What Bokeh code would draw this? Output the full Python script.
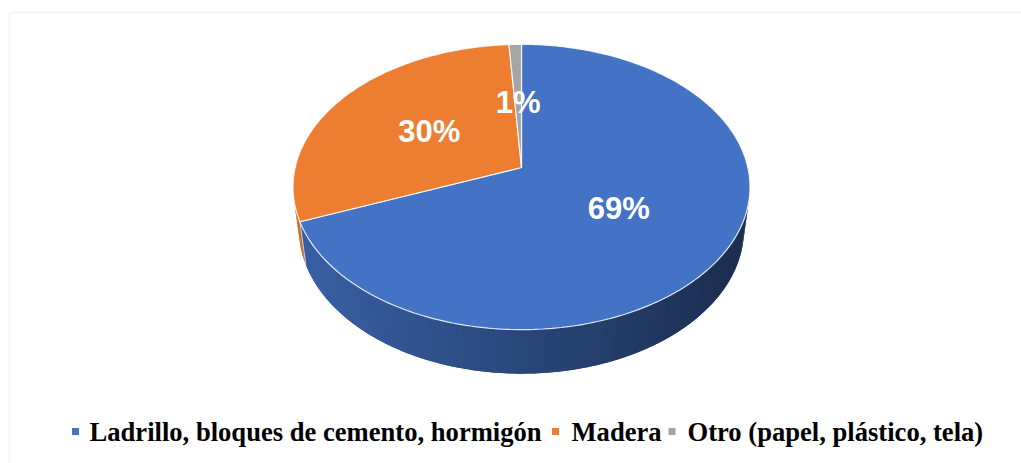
import numpy as np
from bokeh.plotting import figure
from bokeh.models import Range1d, BoxAnnotation
from bokeh.core.properties import value
from bokeh.embed import file_html
from bokeh.resources import INLINE

# ---- data ----
categories = ["Ladrillo, bloques de cemento, hormigón", "Madera", "Otro (papel, plástico, tela)"]
values = [69, 30, 1]
pct_labels = ["69%", "30%", "1%"]
colors = ["#4472C4", "#ED7D31", "#A5A5A5"]

# ---- layout / projection constants ----
W, H = 1021, 463
CX, CY = 521.0, 167.0      # projected pie centre (px)
S = 226.35                 # scale (px per radius)
RD = 0.174                 # radius / camera distance (perspective)
PHI = np.radians(38.2)     # elevation
TH = 0.244                 # thickness / radius


def proj(u, v, w):
    u = np.asarray(u, float); v = np.asarray(v, float); w = np.asarray(w, float)
    dd = 1 - RD * (v * np.cos(PHI) + w * np.sin(PHI))
    return CX + S * u / dd, CY + S * (v * np.sin(PHI) - w * np.cos(PHI)) / dd


def rim(a, r=1.0, w=0.0):
    a = np.asarray(a, float)
    return proj(r * np.sin(a), -r * np.cos(a), np.full_like(a, w))


def shade(hexcol, f):
    h = hexcol.lstrip("#")
    r, g, b = (int(h[i:i + 2], 16) for i in (0, 2, 4))
    return "#%02x%02x%02x" % (int(r * f), int(g * f), int(b * f))


p = figure(width=W, height=H, x_range=Range1d(0, W), y_range=Range1d(H, 0),
           output_backend="svg", toolbar_location=None, min_border=0,
           x_axis_type=None, y_axis_type=None)
p.grid.visible = False
p.outline_line_color = None
p.background_fill_color = "white"
p.border_fill_color = "white"

# chart-area border (only top and left visible in the window)
p.add_layout(BoxAnnotation(left=9, right=3000, top=12, bottom=3000, fill_alpha=0,
                           line_color="#d9d9d9", line_width=2))

total = float(sum(values))
fr = np.array(values, float) / total
ends = np.cumsum(fr) * 2 * np.pi
starts = np.concatenate([[0.0], ends[:-1]])

# ---- side wall (front-facing parts), overlapping strips to avoid seams ----
limit = -RD / np.cos(PHI)
sx, sy, sc = [], [], []
edge_x, edge_y = [], []
for a0, a1, col in zip(starts, ends, colors):
    n = max(2, int(np.degrees(a1 - a0) / 1.0))
    aa = np.linspace(a0, a1, n + 1)
    step = aa[1] - aa[0]
    for j in range(n):
        am = 0.5 * (aa[j] + aa[j + 1])
        if np.cos(am) >= limit:
            continue
        b0 = aa[j]
        b1 = min(aa[j + 1] + step, a1)
        seg = np.linspace(b0, b1, 4)
        tx, ty = rim(seg)
        bx, by = rim(seg[::-1], w=-TH)
        xs = list(tx) + list(bx)
        ys = list(ty) + list(by)
        xm = float(np.mean(rim([am])[0]))
        f = 0.85 - 0.45 * (xm - (CX - S * 1.01)) / (2 * S * 1.01)
        sx.append(xs); sy.append(ys); sc.append(shade(col, f))
for a in starts:
    if np.cos(a) < limit:
        tx, ty = rim([a])
        bx, by = rim([a], w=-TH)
        edge_x.append([tx[0], bx[0]]); edge_y.append([ty[0], by[0]])

p.patches(xs=sx, ys=sy, fill_color=sc, line_color=None)
if edge_x:
    p.multi_line(xs=edge_x, ys=edge_y, line_color="#dfe6f3", line_width=1, line_alpha=0.8)

# ---- top face ----
tx_all, ty_all = [], []
for a0, a1 in zip(starts, ends):
    n = max(4, int(np.degrees(a1 - a0)))
    aa = np.linspace(a0, a1, n + 1)
    rx, ry = rim(aa)
    cx, cy = proj(0, 0, 0)
    tx_all.append([float(cx)] + list(rx)); ty_all.append([float(cy)] + list(ry))
p.patches(xs=tx_all, ys=ty_all, fill_color=colors, line_color="white",
          line_width=1.2, line_alpha=0.85)

# ---- percentage labels ----
mids = 0.5 * (starts + ends)
lx, ly = rim(mids, r=0.5)
p.text(x=list(lx), y=list(ly), text=pct_labels, text_color="white",
       text_font=value("Liberation Sans"), text_font_style="bold", text_font_size="31px",
       text_align="center", text_baseline="middle")

# ---- legend (manual, bottom) ----
mark_x = [75, 555, 671.5]
text_x = [89, 571, 687]
leg_y = 431
p.rect(x=mark_x, y=[leg_y] * 3, width=7, height=7, width_units="screen",
       height_units="screen", fill_color=colors, line_color=None)
p.text(x=text_x, y=[leg_y] * 3, text=categories, text_color="black",
       text_font=value("Liberation Serif"), text_font_style="bold", text_font_size="26.6px",
       text_align="left", text_baseline="middle")

open("out.html", "w").write(file_html(p, INLINE))
